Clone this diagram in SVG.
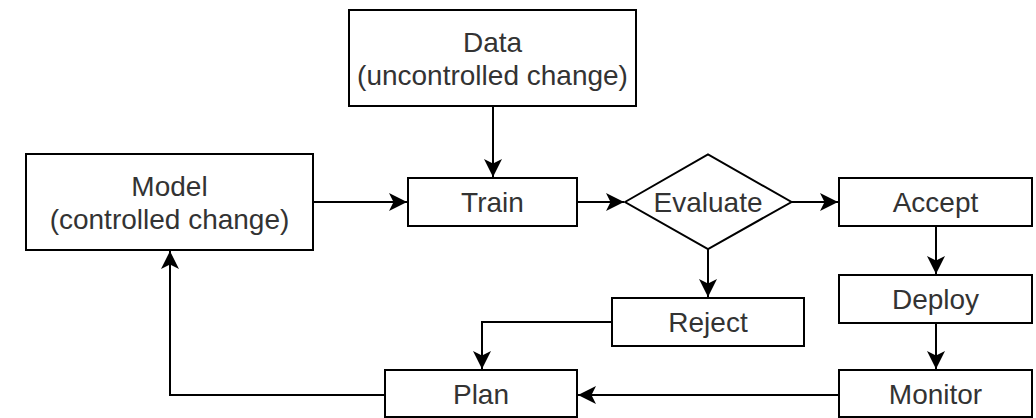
<svg xmlns="http://www.w3.org/2000/svg" width="1036" height="418" viewBox="0 0 1036 418">
  <style>
    .box { fill: #ffffff; stroke: #000000; stroke-width: 2; }
    .lbl { font-family: "Liberation Sans", Arial, sans-serif; font-size: 28px; fill: #333333; text-anchor: middle; }
    .edge { fill: none; stroke: #000000; stroke-width: 2; marker-end: url(#arrow); }
  </style>
  <defs>
    <!-- classic notched arrowhead, tip at the path end -->
    <marker id="arrow" markerUnits="userSpaceOnUse" markerWidth="20" markerHeight="20" viewBox="-18 -9 20 18" refX="0" refY="0" orient="auto">
      <path d="M0,0 L-18,-9 L-13.5,0 L-18,9 Z" fill="#000000"/>
    </marker>
  </defs>
  <rect width="1036" height="418" fill="#ffffff"/>

  <g id="connectors">
    <path class="edge" d="M493,106 L493,177"/>
    <path class="edge" d="M313,202 L407,202"/>
    <path class="edge" d="M577,202 L624,202"/>
    <path class="edge" d="M792,202 L838,202"/>
    <path class="edge" d="M708,249 L708,297"/>
    <path class="edge" d="M936,226 L936,274"/>
    <path class="edge" d="M936,323 L936,369"/>
    <path class="edge" d="M612,322 L482,322 L482,369"/>
    <path class="edge" d="M839,395 L578,395"/>
    <path class="edge" d="M385,395 L170,395 L170,251"/>
  </g>

  <g id="data">
    <rect class="box" x="349" y="10" width="287" height="96"/>
    <text class="lbl" x="492.5" y="51.5">Data</text>
    <text class="lbl" x="492.5" y="84.5">(uncontrolled change)</text>
  </g>
  <g id="model">
    <rect class="box" x="26" y="154" width="287" height="96"/>
    <text class="lbl" x="169.5" y="195.5">Model</text>
    <text class="lbl" x="169.5" y="228.5">(controlled change)</text>
  </g>
  <g id="train">
    <rect class="box" x="408" y="178" width="169" height="48"/>
    <text class="lbl" x="492.5" y="212">Train</text>
  </g>
  <g id="evaluate">
    <polygon class="box" points="625,202 708,154.5 791.5,202 708,249"/>
    <text class="lbl" x="708" y="212">Evaluate</text>
  </g>
  <g id="accept">
    <rect class="box" x="839" y="178" width="193" height="48"/>
    <text class="lbl" x="935.5" y="212">Accept</text>
  </g>
  <g id="deploy">
    <rect class="box" x="839" y="275" width="193" height="48"/>
    <text class="lbl" x="935.5" y="309">Deploy</text>
  </g>
  <g id="monitor">
    <rect class="box" x="839" y="370" width="193" height="47"/>
    <text class="lbl" x="935.5" y="404">Monitor</text>
  </g>
  <g id="reject">
    <rect class="box" x="612" y="298" width="192" height="48"/>
    <text class="lbl" x="708" y="332">Reject</text>
  </g>
  <g id="plan">
    <rect class="box" x="385" y="370" width="192" height="47"/>
    <text class="lbl" x="481" y="404">Plan</text>
  </g>
</svg>
